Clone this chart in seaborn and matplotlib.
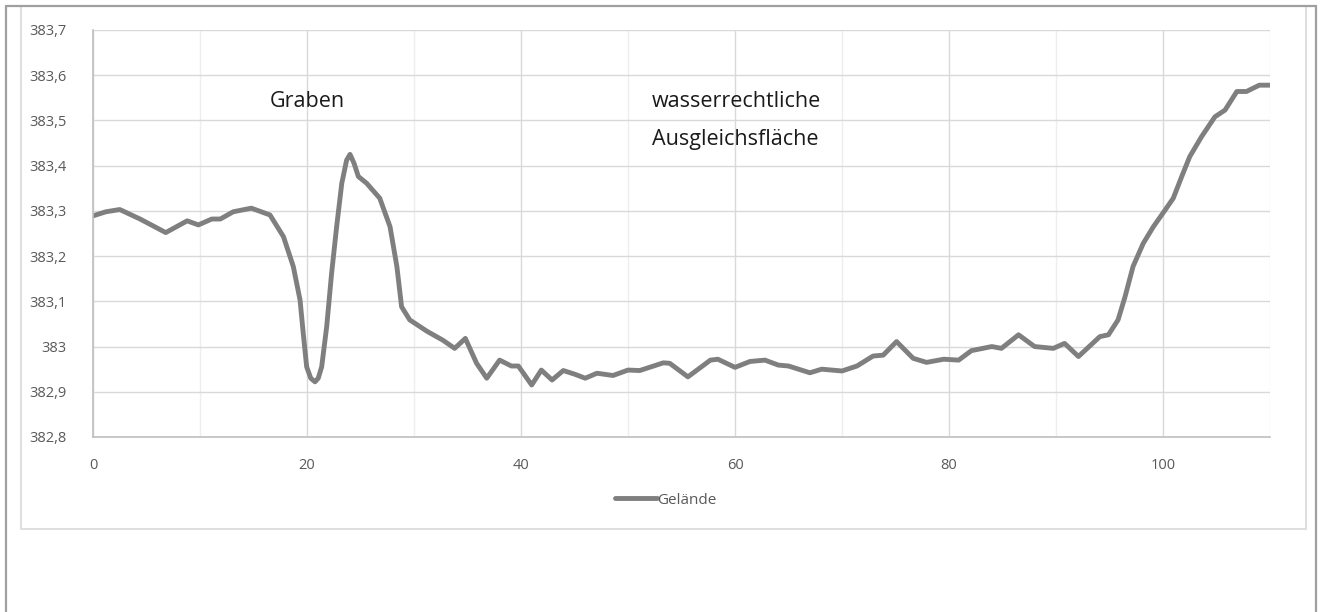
import numpy as np
import pandas as pd
import matplotlib
matplotlib.use("Agg")
import matplotlib.pyplot as plt
import seaborn as sns
from matplotlib.ticker import MultipleLocator

# ---- data ----
station = [0, 1.2, 2.5, 4.4, 6.8, 8.8, 9.85, 11.1, 11.9, 13.1, 14.8, 16.54, 17.8, 18.72,
           19.35, 19.65, 19.97, 20.35, 20.75, 21.05, 21.37, 21.84, 22.3, 22.77, 23.25,
           23.7, 24.02, 24.4, 24.8, 25.58, 26.8, 27.76, 28.4, 28.84, 29.6, 30.56,
           31.2, 32.7, 33.8, 34.8, 35.85, 36.8, 38.0, 39.1,
           39.75, 41.0, 41.9, 42.9, 43.95, 45.0, 46.0, 47.1, 48.6, 50.0, 51.1, 53.3,
           53.9, 55.6, 57.7, 58.4, 60.0, 61.4, 62.8, 64.05, 65.0, 67.0, 68.1, 70.0,
           71.4, 72.9, 73.85, 75.1, 76.65, 77.9, 79.5, 80.9, 82.1, 84.0, 84.9, 86.5,
           88.0, 89.75, 90.8, 92.1, 94.1, 94.9, 95.8, 96.45, 97.2, 98.15, 99.1, 100.2,
           100.96, 101.75, 102.5, 103.6, 104.85, 105.8, 106.9, 107.8, 109.0, 110.0]
gelaende = [383.289, 383.298, 383.303, 383.282, 383.252, 383.278, 383.269, 383.282,
            383.282, 383.298, 383.306, 383.291, 383.243, 383.177,
            383.103, 383.029, 382.955, 382.930, 382.922, 382.930, 382.955, 383.044,
            383.162, 383.265, 383.361,
            383.412, 383.425, 383.405, 383.376, 383.361, 383.328, 383.265, 383.177,
            383.088, 383.059, 383.044,
            383.034, 383.014, 382.996, 383.018, 382.963, 382.930, 382.970, 382.957,
            382.957, 382.915, 382.948, 382.926, 382.947, 382.939, 382.930, 382.941,
            382.936, 382.948, 382.947, 382.964, 382.963, 382.933, 382.970, 382.972,
            382.954, 382.967, 382.970, 382.959, 382.957, 382.942, 382.950, 382.946,
            382.957, 382.979, 382.981, 383.011, 382.974, 382.965, 382.972, 382.970,
            382.991, 383.000, 382.996, 383.026, 383.000, 382.996, 383.007, 382.978,
            383.022, 383.026, 383.059, 383.110, 383.177, 383.228, 383.265, 383.302,
            383.328, 383.376, 383.420, 383.464, 383.508, 383.523, 383.564, 383.564,
            383.578, 383.578]
series_name = "Gelände"
y_ticks = [382.8, 382.9, 383.0, 383.1, 383.2, 383.3, 383.4, 383.5, 383.6, 383.7]
y_tick_labels = ["382,8", "382,9", "383", "383,1", "383,2", "383,3", "383,4",
                 "383,5", "383,6", "383,7"]
x_ticks = [0, 20, 40, 60, 80, 100]
annotations = [("Graben", 16.5, 383.541), ("wasserrechtliche", 52.2, 383.541),
               ("Ausgleichsfläche", 52.2, 383.457)]

df = pd.DataFrame({"Station": station, "Höhe": gelaende, "Serie": series_name})

sns.set_style("white")
plt.rcParams["font.family"] = ["Open Sans", "DejaVu Sans"]

fig = plt.figure(figsize=(13.22, 6.12), dpi=100)
W, H = 1322, 612
ax = fig.add_axes([93 / W, 1 - 437 / H, (1270 - 93) / W, (437 - 30) / H])

line_color = "#7f7f7f"
sns.lineplot(data=df, x="Station", y="Höhe", hue="Serie", palette=[line_color],
             ax=ax, linewidth=3.5, solid_joinstyle="round", solid_capstyle="round",
             legend=True)

ax.set_xlim(0, 110)
ax.set_ylim(382.8, 383.7)
ax.set_xticks(x_ticks)
ax.xaxis.set_minor_locator(MultipleLocator(10))
ax.set_yticks(y_ticks)
ax.set_yticklabels(y_tick_labels)
ax.set_xlabel("")
ax.set_ylabel("")

ax.grid(True, which="major", axis="both", color="#d9d9d9", linewidth=1.0)
ax.grid(True, which="minor", axis="x", color="#eeeeee", linewidth=1.0)
ax.set_axisbelow(True)

for s in ["top", "right"]:
    ax.spines[s].set_visible(False)
for s in ["left", "bottom"]:
    ax.spines[s].set_color("#bfbfbf")
    ax.spines[s].set_linewidth(1.2)

ax.tick_params(axis="y", length=0, pad=19, labelsize=10.5, labelcolor="#595959")
ax.tick_params(axis="x", which="major", length=4.5, width=1.0, color="#bfbfbf",
               direction="out", pad=10.5, labelsize=10.5, labelcolor="#595959")
ax.tick_params(axis="x", which="minor", length=0)

for txt, xx, yy in annotations:
    ax.text(xx, yy, txt, fontsize=15.5, color="#1a1a1a", va="center", ha="left")

handles, labels = ax.get_legend_handles_labels()
leg = ax.legend(handles, labels, loc="center", bbox_to_anchor=(666 / W, 1 - 500 / H),
                bbox_transform=fig.transFigure, frameon=False, fontsize=11,
                handlelength=2.7, handletextpad=0.05, labelcolor="#595959")
for l in leg.get_lines():
    l.set_linewidth(3.5)

# chart-area border and outer frame
fig.add_artist(plt.Rectangle((21 / W, 1 - 529 / H), (1306 - 21) / W, (529 - 6) / H,
                             transform=fig.transFigure, fill=False,
                             edgecolor="#d9d9d9", linewidth=1.2))
fig.add_artist(plt.Line2D([6 / W, 6 / W], [0, 1 - 6 / H], transform=fig.transFigure,
                          color="#a0a0a0", linewidth=1.6))
fig.add_artist(plt.Line2D([6 / W, 1316 / W], [1 - 6 / H, 1 - 6 / H],
                          transform=fig.transFigure, color="#a0a0a0", linewidth=1.6))
fig.add_artist(plt.Line2D([1316 / W, 1316 / W], [0, 1 - 6 / H], transform=fig.transFigure,
                          color="#a0a0a0", linewidth=1.6))

fig.savefig("out.png", dpi=100, facecolor="white")
